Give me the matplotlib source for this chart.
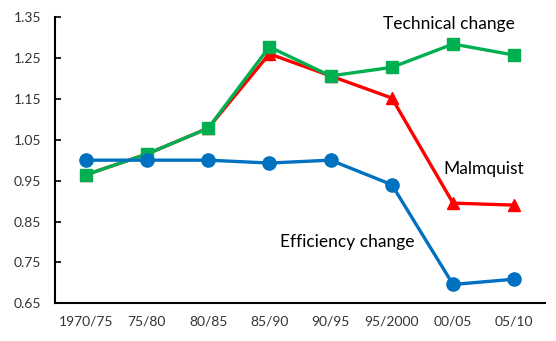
import matplotlib
matplotlib.use("Agg")
import matplotlib.pyplot as plt

periods = ["1970/75", "75/80", "80/85", "85/90", "90/95", "95/2000", "00/05", "05/10"]
efficiency = [1.00, 1.00, 1.00, 0.993, 1.00, 0.940, 0.696, 0.709]
technical = [0.964, 1.015, 1.078, 1.277, 1.206, 1.227, 1.284, 1.257]
malmquist = [0.964, 1.015, 1.078, 1.260, 1.206, 1.152, 0.895, 0.890]
yticks = [0.65, 0.75, 0.85, 0.95, 1.05, 1.15, 1.25, 1.35]

plt.rcParams['font.family'] = ['Lato', 'DejaVu Sans']

fig = plt.figure(figsize=(5.56, 3.41), dpi=100)
ax = fig.add_axes([0.099, 0.1106, 0.881, 0.8394])
x = list(range(len(periods)))

ax.plot(x, malmquist, color='#FF0000', lw=2.4, marker='^', ms=8.5, zorder=3)
ax.plot(x, technical, color='#00B050', lw=2.4, marker='s', ms=9, zorder=4)
ax.plot(x, efficiency, color='#0070C0', lw=2.4, marker='o', ms=9.5, zorder=5)

ax.set_xlim(-0.5, 7.5)
ax.set_ylim(0.65, 1.35)
ax.set_yticks(yticks)
ax.set_yticklabels([f"{v:.2f}" for v in yticks], fontsize=10, color='#333333')
ax.set_xticks(x)
ax.set_xticklabels(periods, fontsize=10, color='#333333')
ax.tick_params(axis='y', direction='in', length=4, width=1.2, pad=10)
ax.tick_params(axis='x', length=0, pad=9)
for s in ['top', 'right']:
    ax.spines[s].set_visible(False)
for s in ['left', 'bottom']:
    ax.spines[s].set_linewidth(1.5)
    ax.spines[s].set_color('black')

ax.text(5.93, 1.332, "Technical change", fontsize=12.5, ha='center', va='center', color='black')
ax.text(6.5, 0.978, "Malmquist", fontsize=12.5, ha='center', va='center', color='black')
ax.text(4.28, 0.800, "Efficiency change", fontsize=12.5, ha='center', va='center', color='black')

fig.savefig("out.png", dpi=100)
